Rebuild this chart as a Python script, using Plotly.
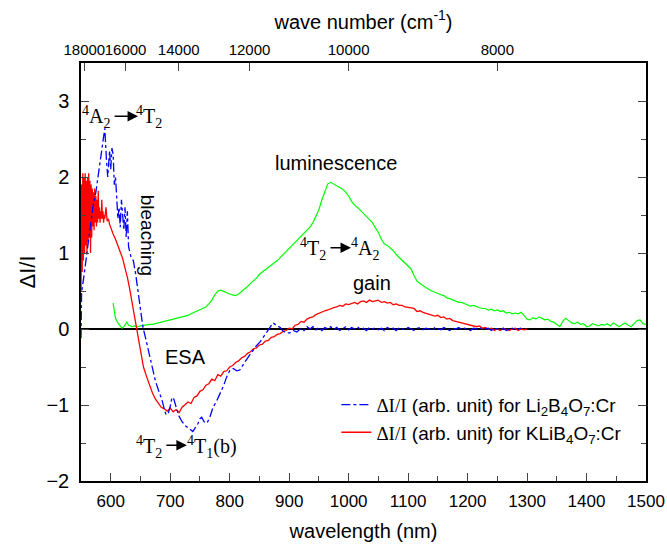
import plotly.graph_objects as go

# ---------------- data ----------------
red_wl = [550, 551, 552, 553, 554, 555, 556, 557, 558, 559, 560, 561, 562, 563, 564, 565, 566, 567, 568, 569,
          570, 571, 572, 573, 574, 575, 576, 577, 578, 579, 580, 581, 582, 583, 584, 585, 586, 587, 588, 589,
          590, 592, 594, 596, 598, 600, 604, 608, 612, 616, 620, 624, 628, 632, 637, 641, 645, 650, 655, 660,
          665, 670, 675, 680, 685, 690, 695, 700, 705, 710, 715, 720, 725, 730, 735, 740, 745, 750, 755, 760,
          765, 770, 775, 780, 785, 790, 795, 800, 805, 810, 815, 820, 825, 830, 835, 840, 845, 850, 855, 860,
          865, 870, 875, 880, 885, 890, 895, 900, 905, 910, 915, 920, 925, 930, 935, 940, 945, 950, 955, 960,
          965, 970, 975, 980, 985, 990, 995, 1000, 1005, 1010, 1015, 1020, 1025, 1030, 1035, 1040, 1045, 1050,
          1055, 1060, 1065, 1070, 1075, 1080, 1085, 1090, 1095, 1100, 1105, 1110, 1115, 1120, 1125, 1130, 1135,
          1140, 1145, 1150, 1155, 1160, 1165, 1170, 1175, 1180, 1185, 1190, 1195, 1200, 1205, 1210, 1215, 1220,
          1225, 1230, 1235, 1240, 1245, 1250, 1255, 1260, 1265, 1270, 1275, 1280, 1285, 1290, 1295, 1300]
red_val = [0.5, 1.9, 0.75, 2.05, 0.9, 2.0, 1.0, 2.05, 1.1, 1.95, 1.0, 2.0, 1.15, 2.05, 1.2, 1.95, 1.0, 1.9, 1.2, 1.85,
           1.35, 1.8, 1.3, 1.85, 1.4, 1.75, 1.35, 1.7, 1.4, 1.82, 1.45, 1.6, 1.4, 1.55, 1.45, 1.7, 1.45, 1.55, 1.4, 1.5,
           1.45, 1.6, 1.42, 1.45, 1.38, 1.33, 1.25, 1.18, 1.1, 1.02, 0.93, 0.8, 0.68, 0.52, 0.3, 0.12, -0.03, -0.3, -0.5, -0.62,
           -0.74, -0.84, -0.92, -0.98, -1.03, -1.05, -1.08, -1.04, -1.09, -1.06, -1.1, -1.03, -1.0, -0.96, -0.98, -0.9, -0.88, -0.82, -0.8, -0.74,
           -0.72, -0.66, -0.68, -0.6, -0.62, -0.56, -0.55, -0.5, -0.48, -0.44, -0.42, -0.38, -0.36, -0.32, -0.3, -0.26, -0.25, -0.21, -0.2, -0.16,
           -0.15, -0.11, -0.1, -0.07, -0.06, -0.03, -0.02, 0.01, 0.0, 0.05, 0.06, 0.1, 0.09, 0.13, 0.15, 0.16, 0.19, 0.21, 0.22, 0.24,
           0.25, 0.27, 0.28, 0.29, 0.31, 0.3, 0.33, 0.32, 0.34, 0.35, 0.33, 0.36, 0.37, 0.35, 0.38, 0.36, 0.37, 0.38,
           0.35, 0.36, 0.34, 0.35, 0.32, 0.33, 0.31, 0.31, 0.29, 0.28, 0.27, 0.27, 0.23, 0.24, 0.22, 0.21, 0.2,
           0.19, 0.17, 0.18, 0.15, 0.16, 0.13, 0.14, 0.11, 0.1, 0.09, 0.08, 0.07, 0.06, 0.05, 0.05, 0.03, 0.04,
           0.01, 0.02, 0.0, 0.01, -0.02, 0.0, -0.02, 0.01, -0.01, -0.02, 0.0, 0.01, -0.02, 0.0, -0.01, 0.0]

blue_wl = [550, 551, 555, 560, 565, 570, 575, 580, 585, 590, 593, 595, 598, 600, 602, 604, 606, 608, 610, 612,
           614, 616, 618, 620, 622, 624, 626, 628, 630, 634, 638, 642, 646, 650, 654, 658, 663, 669, 675, 680,
           686, 690, 693, 697, 700, 703, 706, 710, 715, 720, 725, 730, 735, 738, 742, 747, 750, 753, 757, 762,
           767, 772, 778, 784, 790, 795, 800, 806, 812, 817, 822, 826, 832, 837, 845, 851, 857, 862, 868, 873,
           878, 885, 890, 895, 901, 907, 913, 920, 925, 930, 935, 940, 945, 950, 955, 960, 965, 970, 975, 980,
           985, 990, 995, 1000, 1005, 1010, 1015, 1020, 1025, 1030, 1035, 1040, 1045, 1050, 1055, 1060, 1065, 1070,
           1075, 1080, 1085, 1090, 1095, 1100, 1105, 1110, 1115, 1120, 1125, 1130, 1135, 1140, 1145, 1150, 1155,
           1160, 1165, 1170, 1175, 1180, 1185, 1190, 1195, 1200, 1205, 1210, 1215, 1220, 1225, 1230, 1235, 1240,
           1245, 1250, 1255, 1260, 1265, 1270, 1275, 1280, 1285, 1290]
blue_val = [-0.12, 0.48, 0.7, 1.0, 1.3, 1.6, 1.8, 2.1, 2.4, 2.64, 2.2, 2.0, 2.35, 2.1, 2.38, 2.3, 1.9, 2.0, 1.74, 1.45,
            1.6, 1.34, 1.7, 1.45, 1.3, 1.6, 1.21, 1.55, 1.08, 0.95, 0.9, 0.72, 0.5, 0.3, 0.03, -0.1, -0.28, -0.5, -0.68, -0.8,
            -0.93, -1.05, -1.13, -1.1, -1.02, -0.9, -0.92, -1.03, -1.15, -1.22, -1.27, -1.3, -1.33, -1.35, -1.3, -1.24, -1.18, -1.16, -1.22, -1.24,
            -1.15, -1.03, -0.95, -0.85, -0.74, -0.63, -0.55, -0.52, -0.55, -0.54, -0.47, -0.43, -0.36, -0.3, -0.22, -0.17, -0.1, -0.05, 0.02, 0.08,
            0.05, 0.02, -0.03, -0.05, -0.05, -0.02, -0.04, 0.01, -0.02, 0.03, 0.0, 0.03, -0.01, 0.02, -0.02, 0.02, 0.0, 0.03, -0.01, 0.02,
            -0.02, 0.01, 0.03, -0.01, 0.02, 0.0, 0.03, -0.01, 0.01, -0.02, 0.02, 0.0, 0.02, -0.01, 0.01, -0.02, 0.02, 0.0,
            0.01, -0.02, 0.02, 0.0, -0.01, 0.02, 0.0, -0.02, 0.01, 0.02, -0.01, 0.01, 0.0, -0.02, 0.02, 0.0, -0.01,
            0.02, 0.0, -0.02, 0.01, 0.0, 0.02, -0.01, 0.01, 0.0, -0.02, 0.01, 0.0, 0.02, -0.01, 0.0, 0.01, -0.02,
            0.01, 0.0, -0.01, 0.01, -0.02, 0.0, 0.01, -0.01, 0.0, 0.01]

green_wl = [604, 606, 608, 612, 616, 619, 622, 625, 627, 630, 633, 636, 640, 645, 650, 655, 660, 665, 670, 675,
            680, 685, 690, 695, 700, 705, 710, 715, 720, 725, 730, 735, 740, 745, 750, 755, 760, 765, 770, 775,
            780, 785, 790, 795, 800, 805, 810, 815, 820, 825, 830, 835, 840, 845, 850, 855, 860, 865, 870, 875,
            880, 885, 890, 895, 900, 905, 910, 915, 920, 925, 930, 935, 940, 945, 950, 955, 960, 965, 970, 975,
            980, 985, 990, 995, 1000, 1005, 1010, 1015, 1020, 1025, 1030, 1035, 1040, 1045, 1050, 1055, 1060, 1065,
            1070, 1075, 1080, 1085, 1090, 1095, 1100, 1105, 1110, 1115, 1120, 1125, 1130, 1135, 1140, 1145, 1150,
            1155, 1160, 1165, 1170, 1175, 1180, 1185, 1190, 1195, 1200, 1205, 1210, 1215, 1220, 1225, 1230, 1235,
            1240, 1245, 1250, 1255, 1260, 1265, 1270, 1275, 1280, 1285, 1290, 1295, 1300, 1305, 1310, 1315, 1320,
            1325, 1330, 1335, 1340, 1345, 1350, 1355, 1360, 1365, 1370, 1375, 1380, 1385, 1390, 1395, 1400, 1405,
            1410, 1415, 1420, 1425, 1430, 1435, 1440, 1445, 1450, 1455, 1460, 1465, 1470, 1475, 1480, 1485, 1490,
            1495, 1500]
green_val = [0.34, 0.2, 0.14, 0.08, 0.03, 0.01, 0.03, 0.08, 0.09, 0.05, 0.04, 0.03, 0.04, 0.03, 0.04, 0.05, 0.05, 0.06, 0.06, 0.07,
             0.08, 0.08, 0.09, 0.1, 0.11, 0.12, 0.13, 0.14, 0.15, 0.17, 0.18, 0.2, 0.22, 0.23, 0.25, 0.27, 0.29, 0.33, 0.38, 0.45,
             0.5, 0.51, 0.49, 0.48, 0.46, 0.45, 0.44, 0.46, 0.49, 0.52, 0.56, 0.6, 0.63, 0.67, 0.72, 0.75, 0.78, 0.8, 0.83, 0.86,
             0.9, 0.94, 0.98, 1.03, 1.07, 1.11, 1.15, 1.19, 1.23, 1.26, 1.3, 1.34, 1.4, 1.48, 1.57, 1.7, 1.82, 1.91, 1.93, 1.91,
             1.89, 1.87, 1.84, 1.8, 1.75, 1.68, 1.63, 1.6, 1.56, 1.52, 1.48, 1.45, 1.4, 1.33, 1.27, 1.18, 1.12, 1.1,
             1.07, 1.03, 0.98, 0.94, 0.9, 0.86, 0.82, 0.79, 0.7, 0.63, 0.6, 0.57, 0.55, 0.52, 0.5, 0.48, 0.47,
             0.45, 0.44, 0.41, 0.4, 0.38, 0.37, 0.35, 0.35, 0.33, 0.32, 0.3, 0.31, 0.29, 0.28, 0.27, 0.27, 0.25,
             0.26, 0.24, 0.25, 0.23, 0.24, 0.21, 0.22, 0.2, 0.21, 0.2, 0.22, 0.18, 0.13, 0.12, 0.15, 0.13, 0.16,
             0.14, 0.12, 0.13, 0.1, 0.09, 0.06, 0.03, 0.1, 0.14, 0.11, 0.08, 0.07, 0.09, 0.06, 0.07, 0.03, 0.04,
             0.07, 0.05, 0.04, 0.06, 0.05, 0.07, 0.04, 0.08, 0.05, 0.03, 0.06, 0.08, 0.05, 0.03, 0.07, 0.11, 0.12,
             0.07, 0.06]

x_ticks = [600, 700, 800, 900, 1000, 1100, 1200, 1300, 1400, 1500]
y_ticks = [-2, -1, 0, 1, 2, 3]
wavenumber_ticks = [18000, 16000, 14000, 12000, 10000, 8000]

SANS = "Liberation Sans, Arial, sans-serif"
SERIF = "Liberation Serif, Times New Roman, serif"

fig = go.Figure()
fig.add_trace(go.Scatter(x=green_wl, y=green_val, mode="lines", line=dict(color="#00ff00", width=1.2),
                         showlegend=False))
fig.add_trace(go.Scatter(x=red_wl, y=red_val, mode="lines", line=dict(color="#ff0000", width=1.3),
                         name='<span style="font-family:Liberation Serif">ΔI/I</span> (arb. unit) for KLiB<sub>4</sub>O<sub>7</sub>:Cr',
                         legendrank=2))
fig.add_trace(go.Scatter(x=blue_wl, y=blue_val, mode="lines", line=dict(color="#0000ff", width=1.3, dash="dashdot"),
                         name='<span style="font-family:Liberation Serif">ΔI/I</span> (arb. unit) for Li<sub>2</sub>B<sub>4</sub>O<sub>7</sub>:Cr',
                         legendrank=1))
# invisible trace to activate the top (wave number) axis
fig.add_trace(go.Scatter(x=[1e7 / w for w in wavenumber_ticks], y=[0] * len(wavenumber_ticks), xaxis="x2",
                         mode="lines", line=dict(width=0), opacity=0, showlegend=False, hoverinfo="skip"))

fig.update_layout(
    width=667, height=552,
    margin=dict(l=81, r=21, t=63, b=71),
    paper_bgcolor="white", plot_bgcolor="white",
    font=dict(family=SANS, color="black"),
    xaxis=dict(range=[550, 1500], tickvals=x_ticks, ticks="inside", ticklen=8, tickwidth=1.2,
               minor=dict(dtick=50, tick0=550, ticks="inside", ticklen=5, tickwidth=1.2, showgrid=False),
               showline=True, linecolor="black", linewidth=1.5, mirror=True, showgrid=False, zeroline=False,
               tickfont=dict(size=17), ticklabelstandoff=4, automargin=False,
               title=dict(text="wavelength (nm)", font=dict(size=20), standoff=14)),
    xaxis2=dict(range=[550, 1500], overlaying="x", side="top", anchor="y",
                tickvals=[1e7 / w for w in wavenumber_ticks], ticktext=[str(w) for w in wavenumber_ticks],
                ticks="inside", ticklen=8, tickwidth=1.2, showgrid=False, zeroline=False, showline=False,
                tickfont=dict(size=15), ticklabelstandoff=4, tickangle=0, automargin=False,
                title=dict(text="wave number (cm<sup>-1</sup>)", font=dict(size=20), standoff=6)),
    yaxis=dict(range=[-2, 3.5], tickvals=y_ticks, ticks="inside", ticklen=8, tickwidth=1.2,
               minor=dict(dtick=0.5, tick0=0, ticks="inside", ticklen=5, tickwidth=1.2, showgrid=False),
               showline=True, linecolor="black", linewidth=1.5, mirror="ticks", showgrid=False,
               zeroline=True, zerolinecolor="black", zerolinewidth=1.5,
               tickfont=dict(size=20), ticklabelstandoff=6, automargin=False,
               title=dict(text="ΔI/I", font=dict(size=22), standoff=5)),
    legend=dict(x=0.452, y=0.228, xanchor="left", yanchor="top", bgcolor="rgba(0,0,0,0)",
                font=dict(size=19, family=SANS), tracegroupgap=2),
)

ann_serif = dict(family=SERIF, size=20, color="black")
ann_sans = dict(family=SANS, size=20, color="black")
annotations = [
    dict(x=575, y=2.79, text="<sup>4</sup>A<sub>2</sub>", font=ann_serif),
    dict(x=665, y=2.79, text="<sup>4</sup>T<sub>2</sub>", font=ann_serif),
    dict(x=661, y=1.24, text="bleaching", textangle=90, font=dict(family=SANS, size=19, color="black")),
    dict(x=726, y=-0.37, text="ESA", font=ann_sans),
    dict(x=664, y=-1.55, text="<sup>4</sup>T<sub>2</sub>", font=ann_serif),
    dict(x=771, y=-1.55, text="<sup>4</sup>T<sub>1</sub>(b)", font=ann_serif),
    dict(x=978, y=2.18, text="luminescence", font=ann_sans),
    dict(x=940, y=1.05, text="<sup>4</sup>T<sub>2</sub>", font=ann_serif),
    dict(x=1027, y=1.05, text="<sup>4</sup>A<sub>2</sub>", font=ann_serif),
    dict(x=1040, y=0.6, text="gain", font=ann_sans),
]
for a in annotations:
    fig.add_annotation(xref="x", yref="y", showarrow=False, **a)

arrows = [(646, 2.8, -25), (728, -1.53, -22), (1004, 1.07, -22)]
for ax_, ay_, off in arrows:
    fig.add_annotation(xref="x", yref="y", x=ax_, y=ay_, ax=off, ay=0, text="", showarrow=True,
                       arrowhead=2, arrowsize=1.4, arrowwidth=1.5, arrowcolor="black")

# remove the default page margin so the figure sits at the window's top-left corner
fig.write_html("out.html", config={"displayModeBar": False},
               post_script="document.body.style.margin='0';")
